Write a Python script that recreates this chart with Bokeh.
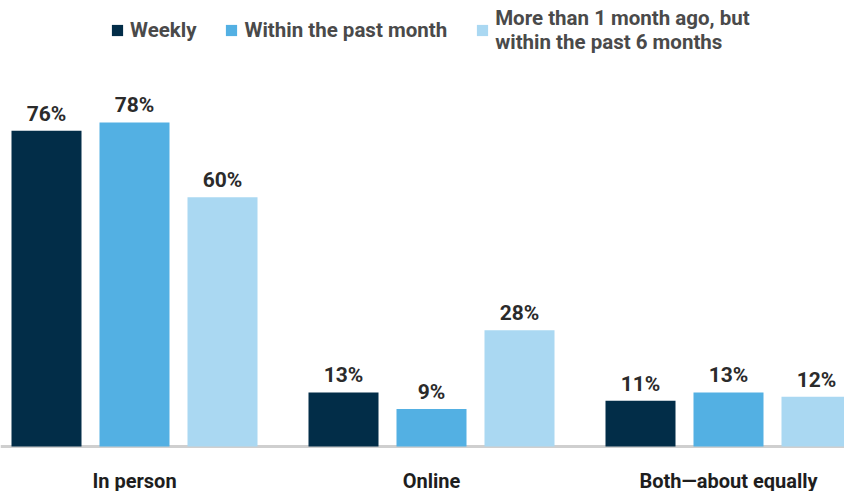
from bokeh.plotting import figure
from bokeh.models import ColumnDataSource, Range1d, Span, Legend, LegendItem
from bokeh.transform import dodge
from bokeh.core.properties import value
from bokeh.embed import file_html
from bokeh.resources import INLINE

categories = ["In person", "Online", "Both\u2014about equally"]
series_names = ["Weekly", "Within the past month", "More than 1 month ago, but\nwithin the past 6 months"]
weekly = [76, 13, 11]
past_month = [78, 9, 13]
past_6_months = [60, 28, 12]
colors = ["#022d48", "#53b0e3", "#aad8f2"]

FONT = "Roboto"
x = [i + 0.5 for i in range(len(categories))]
src = ColumnDataSource(dict(
    x=x, cat=categories,
    s0=weekly, s1=past_month, s2=past_6_months,
    l0=[f"{v}%" for v in weekly],
    l1=[f"{v}%" for v in past_month],
    l2=[f"{v}%" for v in past_6_months],
    zero=[0] * len(categories),
))

W, H = 844, 491
scale = 4.155  # px per percentage point
p = figure(width=W, height=H, output_backend="svg", toolbar_location=None,
           x_range=Range1d(0.5 - 134 / 297, 0.5 + 710 / 297),
           y_range=Range1d(-45 / scale, 446 / scale),
           min_border=0, outline_line_color=None)
p.xaxis.visible = False
p.yaxis.visible = False
p.grid.visible = False
p.background_fill_color = "white"

base = Span(location=0, dimension="width", line_color="#cfcfcf", line_width=3, level="underlay")
p.add_layout(base)

step = 88 / 297
bw = 70 / 297
cols = ["s0", "s1", "s2"]
labs = ["l0", "l1", "l2"]
items = []
for k in range(3):
    off = (k - 1) * step
    r = p.vbar(x=dodge("x", off, range=p.x_range), top=cols[k], bottom=0, width=bw,
               source=src, fill_color=colors[k], line_color=None)
    items.append(LegendItem(label=series_names[k], renderers=[r]))
    p.text(x=dodge("x", off, range=p.x_range), y=cols[k], text=labs[k], source=src,
           text_align="center", text_baseline="alphabetic", y_offset=-17,
           text_font=value(FONT), text_font_size="21px", text_font_style="bold",
           text_color="#2b2b2b")

p.text(x="x", y="zero", text="cat", source=src, text_align="center",
       text_baseline="alphabetic", y_offset=34,
       text_font=value(FONT), text_font_size="20px", text_font_style="bold",
       text_color="#1e1e1e")

legend = Legend(items=items, orientation="horizontal", location=(110, 437),
                glyph_width=14, glyph_height=14, label_standoff=6, spacing=28,
                label_text_font=FONT, label_text_font_size="20.5px",
                label_text_font_style="bold",
                label_text_color="#4a4a4a", label_text_line_height=1.05,
                border_line_color=None, background_fill_alpha=0,
                padding=0, margin=0)
p.add_layout(legend)

open("out.html", "w").write(file_html(p, INLINE))
